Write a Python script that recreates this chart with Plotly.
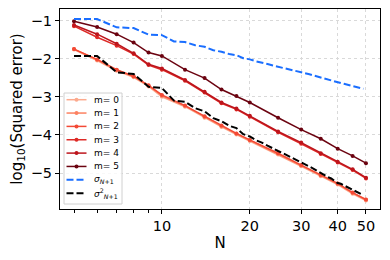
import plotly.graph_objects as go

N = [5, 6, 7, 8, 9, 10, 12, 14, 16, 18, 20, 25, 30, 35, 40, 45, 50]
m0 = [-1.76, -2.05, -2.32, -2.49, -2.73, -3.00, -3.26, -3.55, -3.79, -3.99, -4.16, -4.51, -4.82, -5.08, -5.30, -5.54, -5.72]
m1 = [-1.75, -2.03, -2.30, -2.47, -2.71, -2.97, -3.24, -3.53, -3.77, -3.97, -4.14, -4.49, -4.80, -5.06, -5.28, -5.52, -5.70]
m2 = [-1.75, -2.02, -2.29, -2.46, -2.70, -2.95, -3.23, -3.51, -3.75, -3.96, -4.13, -4.48, -4.79, -5.05, -5.27, -5.51, -5.69]
m3 = [-1.15, -1.44, -1.66, -1.88, -2.17, -2.29, -2.58, -2.89, -3.17, -3.33, -3.52, -3.93, -4.23, -4.50, -4.72, -4.92, -5.14]
m4 = [-1.12, -1.36, -1.61, -1.86, -2.15, -2.26, -2.56, -2.87, -3.15, -3.31, -3.50, -3.91, -4.20, -4.48, -4.70, -4.90, -5.12]
m5 = [-1.02, -1.17, -1.36, -1.58, -1.84, -1.93, -2.29, -2.51, -2.81, -2.98, -3.15, -3.55, -3.86, -4.10, -4.36, -4.55, -4.74]

Ns = list(range(5, 50))
sigma = [-0.965, -0.965, -1.18, -1.20, -1.37, -1.385, -1.55, -1.565, -1.65, -1.69,
         -1.78, -1.82, -1.88, -1.91, -1.99, -2.02, -2.07, -2.10, -2.14, -2.18,
         -2.21, -2.24, -2.27, -2.30, -2.33, -2.36, -2.38, -2.41, -2.44, -2.47,
         -2.50, -2.52, -2.55, -2.57, -2.60, -2.63, -2.64, -2.66, -2.68, -2.70,
         -2.72, -2.74, -2.76, -2.77, -2.79]
sigma2 = [-1.93, -1.93, -2.36, -2.40, -2.74, -2.77, -3.10, -3.13, -3.30, -3.38,
          -3.56, -3.64, -3.76, -3.82, -3.98, -4.04, -4.14, -4.20, -4.28, -4.36,
          -4.42, -4.48, -4.54, -4.60, -4.66, -4.72, -4.76, -4.82, -4.88, -4.94,
          -5.00, -5.04, -5.10, -5.14, -5.20, -5.26, -5.28, -5.32, -5.36, -5.40,
          -5.44, -5.48, -5.52, -5.54, -5.58]

m_series = [m0, m1, m2, m3, m4, m5]
m_names = ["m= 0", "m= 1", "m= 2", "m= 3", "m= 4", "m= 5"]
m_colors = ["#fcaa8e", "#fc8161", "#f34935", "#de2a26", "#bd151c", "#6b0310"]
sig_names = ["<i>σ</i><sub><i>N</i>+1</sub>", "<i>σ</i><sup>2</sup><sub><i>N</i>+1</sub>"]
sig_colors = ["#1a6eff", "black"]

fig = go.Figure()
for ys, name, col in zip(m_series, m_names, m_colors):
    fig.add_trace(go.Scatter(x=N, y=ys, name=name, mode="lines+markers",
                             line=dict(color=col, width=1.5),
                             marker=dict(color=col, size=4)))
for ys, name, col in zip([sigma, sigma2], sig_names, sig_colors):
    fig.add_trace(go.Scatter(x=Ns, y=ys, name=name, mode="lines",
                             line=dict(color=col, width=2, dash="7px,3px")))

# Compact legend drawn with shapes/annotations (paper coordinates)
L, W, T, H = 60, 320, 9, 200
def px(x):
    return (x - L) / W
def py(y):
    return (T + H - y) / H

shapes = [dict(type="rect", xref="paper", yref="paper",
               x0=px(64), x1=px(122), y0=py(204), y1=py(93),
               fillcolor="rgba(255,255,255,0.8)", line=dict(color="#d0d0d0", width=1))]
annotations = []
labels = m_names + sig_names
colors = m_colors + sig_colors
for i, (lab, col) in enumerate(zip(labels, colors)):
    yy = 99.7 + i * 13.35
    if i < 6:
        shapes.append(dict(type="line", xref="paper", yref="paper",
                           x0=px(66.5), x1=px(86.5), y0=py(yy), y1=py(yy),
                           line=dict(color=col, width=1.5)))
        shapes.append(dict(type="circle", xref="paper", yref="paper",
                           x0=px(74.5), x1=px(78.5), y0=py(yy + 2), y1=py(yy - 2),
                           fillcolor=col, line=dict(color=col, width=0)))
    else:
        shapes.append(dict(type="line", xref="paper", yref="paper",
                           x0=px(66.5), x1=px(86.5), y0=py(yy), y1=py(yy),
                           line=dict(color=col, width=2, dash="7px,3px")))
    annotations.append(dict(xref="paper", yref="paper", x=px(92), y=py(yy),
                            xanchor="left", yanchor="middle", text=lab, showarrow=False,
                            font=dict(size=9, color="black", family="DejaVu Sans")))

fig.update_layout(
    width=390, height=260,
    margin=dict(l=L, r=10, t=T, b=260 - T - H),
    paper_bgcolor="white", plot_bgcolor="white",
    font=dict(family="DejaVu Sans", color="black"),
    showlegend=False,
    shapes=shapes, annotations=annotations,
)
fig.update_xaxes(
    type="log", range=[0.651, 1.747], automargin=False,
    tickvals=[10, 20, 30, 40, 50], ticktext=["10", "20", "30", "40", "50"],
    ticks="outside", ticklen=4, tickcolor="black",
    showline=True, linecolor="black", linewidth=1, mirror=True,
    showgrid=True, gridcolor="#d9d9d9", griddash="dot", gridwidth=1,
    zeroline=False,
    minor=dict(tickvals=[5, 6, 7, 8, 9], ticks="outside", ticklen=2.5, tickcolor="black", showgrid=False),
    tickfont=dict(size=14.5),
    title=dict(text="N", font=dict(size=15), standoff=4),
)
fig.update_yaxes(
    range=[-5.94, -0.70], automargin=False,
    tickvals=[-1, -2, -3, -4, -5], ticktext=["−1", "−2", "−3", "−4", "−5"],
    ticks="outside", ticklen=4, tickcolor="black",
    showline=True, linecolor="black", linewidth=1, mirror=True,
    showgrid=True, gridcolor="#d9d9d9", griddash="dot", gridwidth=1,
    zeroline=False,
    tickfont=dict(size=14.5),
    title=dict(text="log<sub>10</sub>(Squared error)", font=dict(size=15), standoff=4),
)

fig.write_html("out.html", post_script="document.body.style.margin='0px';",
               config={"displayModeBar": False})
